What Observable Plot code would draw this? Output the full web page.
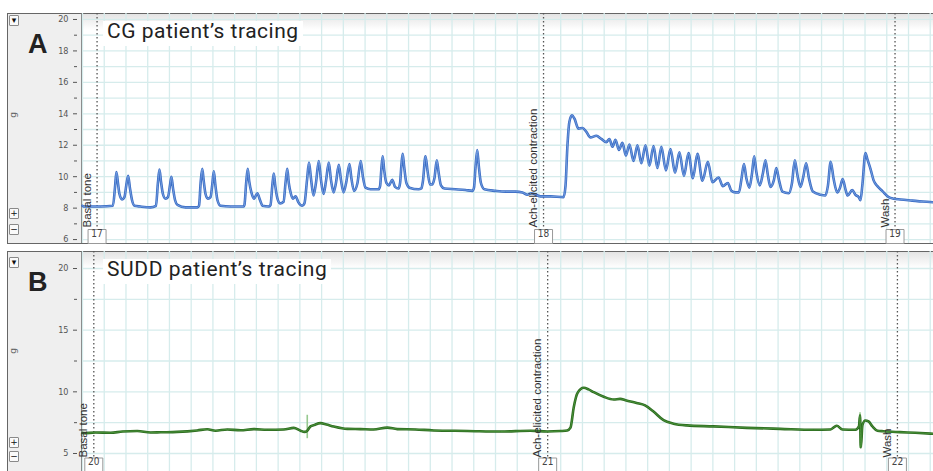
<!DOCTYPE html>
<html><head><meta charset="utf-8">
<script src="https://cdn.jsdelivr.net/npm/d3@7"></script>
<script src="https://cdn.jsdelivr.net/npm/@observablehq/plot@0.6"></script>
<style>
html,body{margin:0;padding:0;background:#fff;}
#root{position:relative;width:933px;height:471px;overflow:hidden;background:#fff;font-family:"Liberation Sans",Arial,sans-serif;}
.panel{position:absolute;left:7px;width:926px;border-top:1px solid #666;border-left:1px solid #666;background:#fff;}
#panelA{top:13px;height:229px;border-bottom:1px solid #666;}
#panelB{top:251px;height:230px;}
.side{position:absolute;left:0;top:0;bottom:0;width:73px;background:#efefef;border-right:1px solid #7d7d7d;}
.shade{position:absolute;left:74px;right:0;top:0;height:16px;background:linear-gradient(#e4e4e4,rgba(255,255,255,0));}
.chart{position:absolute;left:0;}
.title{position:absolute;left:103px;padding:0 4px;background:#fff;font-family:Roboto,"Noto Sans",sans-serif;font-size:21px;line-height:21px;color:#222;height:25px;}
.letter{position:absolute;left:28px;font-family:"Liberation Sans",Arial,sans-serif;font-weight:bold;font-size:27px;line-height:27px;color:#222;}
.btn{position:absolute;left:9px;width:8px;height:9px;border:1px solid #8a8a8a;background:#fafafa;font-size:9px;line-height:9px;text-align:center;color:#111;font-family:"DejaVu Sans",sans-serif;border-radius:1px;}
.unit{position:absolute;left:8px;width:10px;text-align:center;font-size:9px;color:#666;transform:rotate(-90deg);font-family:"DejaVu Sans",sans-serif;}
</style>
</head>
<body>
<div id="root">
  <div class="panel" id="panelA"><div class="side"></div><div class="shade"></div></div>
  <div class="panel" id="panelB"><div class="side"></div><div class="shade"></div></div>
  <div class="chart" id="chartA" style="top:0"></div>
  <div class="chart" id="chartB" style="top:244px"></div>
  <div class="title" style="top:21px;letter-spacing:0.5px">CG patient’s tracing</div>
  <div class="title" style="top:259px;letter-spacing:0.6px">SUDD patient’s tracing</div>
  <div class="letter" style="top:31px">A</div>
  <div class="letter" style="top:269px">B</div>
  <div class="btn" style="top:15px">▾</div>
  <div class="btn" style="top:208px">+</div>
  <div class="btn" style="top:224px">−</div>
  <div class="btn" style="top:257px">▾</div>
  <div class="btn" style="top:437px">+</div>
  <div class="btn" style="top:451px">−</div>
  <div class="unit" style="top:110px">g</div>
  <div class="unit" style="top:346px">g</div>
</div>
<script>
// ---------- Panel A: CG patient (time in s, tension in g) ----------
const timeA = [0,0.9,8.3,14.0,15.0,15.6,16.3,17.0,18.2,19.3,20.2,21.0,21.8,22.8,23.9,26.7,31.3,33.8,34.7,35.4,36.1,37.0,38.2,39.3,40.3,40.9,41.6,42.6,43.7,47.4,52.9,53.6,54.4,55.1,55.7,56.6,57.7,58.9,59.7,60.4,61.1,62.1,63.5,68.1,74.1,74.5,75.3,76.0,76.7,77.7,78.9,80.4,81.7,82.8,85.6,86.5,87.3,88.0,88.7,89.7,90.9,92.5,93.4,94.2,94.9,95.9,96.8,98.0,99.4,101.1,102.1,103.3,104.2,105.1,106.3,107.4,108.7,109.7,110.9,112.0,113.3,114.3,115.5,116.6,117.9,118.9,120.1,121.4,122.8,123.7,124.9,126.5,128.0,129.0,130.2,132.5,136.2,136.9,137.5,138.1,138.8,139.8,141.0,142.5,143.8,145.4,146.1,146.7,147.3,148.0,149.0,150.4,154.6,155.9,156.6,157.8,158.7,159.9,160.8,161.9,163.0,163.8,164.9,166.5,171.6,176.2,179.4,180.1,180.8,181.6,182.3,183.3,184.9,190.0,194.6,199.2,202.4,204.7,206.5,210.7,215.3,221.3,222.2,223.1,224.0,225.2,226.3,228.2,230.0,231.8,233.7,236.4,238.7,241.0,242.4,243.8,245.2,246.8,248.4,250.0,251.6,253.5,255.3,257.1,259.0,260.8,262.7,264.5,266.3,268.4,270.5,272.6,274.6,276.7,278.8,280.8,282.9,285.2,287.7,289.8,292.6,294.6,296.9,298.5,300.4,302.0,303.1,304.3,305.4,306.8,308.0,309.0,310.0,311.6,313.0,314.2,315.3,316.5,318.1,319.2,320.4,322.0,324.9,326.4,327.7,328.9,330.3,331.6,332.9,334.2,336.0,339.5,341.8,342.9,344.2,345.5,347.2,348.5,349.7,351.0,352.0,354.1,355.6,357.1,357.9,358.8,360.2,361.1,362.5,364.0,365.7,367.9,370.9,373.1,376.3,381.7,386.4,391.5];
const gramsA = [8.15,8.1,8.1,8.15,9.4,10.3,9.6,8.9,8.55,8.7,9.5,10.05,9.3,8.5,8.15,8.1,8.05,8.15,9.6,10.45,9.7,8.9,8.6,8.7,9.5,10.0,9.3,8.5,8.2,8.05,8.05,8.15,9.7,10.5,9.8,8.9,8.6,8.7,9.5,10.35,9.5,8.5,8.15,8.1,8.1,8.2,9.6,10.5,9.7,9.0,8.6,8.95,8.5,8.15,8.1,8.2,9.4,10.2,9.4,8.6,8.3,8.4,9.6,10.5,9.6,8.9,8.6,8.75,8.35,8.15,8.3,9.8,10.9,9.9,8.8,9.6,11.0,9.8,8.9,9.7,10.9,9.8,9.0,9.6,10.75,9.8,9.0,9.7,10.8,9.9,9.1,9.6,11.0,10.0,9.3,9.2,9.2,9.4,10.5,11.3,10.4,9.6,9.45,9.8,9.35,9.25,9.6,10.7,11.45,10.6,9.6,9.3,9.2,9.25,9.7,11.3,10.4,9.5,9.5,9.9,11.05,10.3,9.45,9.25,9.2,9.15,9.1,9.3,10.6,11.7,10.7,9.6,9.2,9.1,9.05,9.05,9.0,8.85,8.95,8.75,8.75,8.7,9.4,12.0,13.5,13.9,13.7,13.05,13.1,12.85,12.5,12.6,12.4,12.2,12.4,11.9,12.35,11.7,12.15,11.35,12.05,11.0,12.0,10.85,12.0,10.7,11.95,10.55,11.9,10.4,11.75,10.25,11.55,10.05,11.5,9.9,11.45,9.75,10.95,9.65,9.95,9.4,9.6,9.1,9.0,9.0,9.8,10.8,9.9,9.3,10.2,11.3,10.3,9.45,10.2,11.05,10.1,9.35,9.8,10.55,9.8,9.05,8.95,9.6,11.05,10.1,9.35,10.0,10.85,9.9,9.05,8.85,8.8,9.4,10.95,9.9,9.0,9.3,9.85,9.2,8.8,9.15,8.85,8.7,8.5,9.5,11.5,11.1,10.5,9.75,9.4,9.1,8.7,8.6,8.55,8.48,8.42,8.37];
const yTicksA = [6, 8, 10, 12, 14, 16, 18, 20];
const yMinorA = [7, 9, 11, 13, 15, 17, 19];
const markTimeA = [6.7, 212.1, 373.8];
const markNumA = ["17", "18", "19"];

// ---------- Panel B: SUDD patient ----------
const timeB = [0,0.5,6.0,12.9,18.4,25.2,31.3,35.9,43.6,52.8,57.4,61.2,66.6,72.7,78.8,85.0,92.6,97.2,100.3,102.1,103.4,104.9,106.4,109.5,112.2,115.6,121.8,127.9,133.9,140.2,144.8,153.2,161.6,177.0,192.3,206.1,213.8,219.9,223.0,224.5,226.0,227.7,230.6,232.8,235.2,239.8,244.4,247.3,250.2,254.9,258.8,262.7,267.3,271.9,278.0,290.3,305.6,320.9,336.3,344.1,347.0,349.6,355.6,357.2,357.7,358.1,358.8,360.1,361.6,363.4,365.7,368.5,376.0,383.1,391.5];
const gramsB = [6.68,6.65,6.7,6.68,6.78,6.82,6.7,6.72,6.75,6.87,6.97,6.85,6.95,6.88,6.98,6.92,6.95,7.08,6.85,6.75,6.85,7.2,7.3,7.46,7.35,7.19,7.0,6.98,6.95,7.1,6.98,6.95,6.87,6.83,6.78,6.85,6.78,6.82,6.87,7.1,8.76,9.9,10.33,10.2,9.97,9.6,9.38,9.43,9.3,9.1,8.9,8.4,7.7,7.42,7.28,7.2,7.08,7.0,6.92,6.95,7.25,6.95,6.93,7.2,8.1,5.5,7.3,7.68,7.6,7.2,6.85,6.8,6.73,6.68,6.6];
const yTicksB = [5, 10, 15, 20];
const yMinorB = [7.5, 12.5, 17.5];
const gridB = [5, 7.5, 10, 12.5, 15, 17.5, 20];
const markTimeB = [5.2, 214.0, 374.9];
const markNumB = ["20", "21", "22"];
const eventTimeB = [103.4, 357.7];
const eventLowB = [6.2, 5.4];
const eventHighB = [8.1, 8.3];

const markLabels = ["Basal tone", "Ach-elicited contraction", "Wash"];
const gridTimes = d3.range(0, 392, 10);

const boxSymbol = {draw(ctx) { ctx.moveTo(-9, -7); ctx.lineTo(9, -7); ctx.lineTo(9, 7); ctx.lineTo(-9, 7); ctx.closePath(); }};

function panel({time, grams, color, light, yDomain, height, marginTop, marginBottom, ticks, minor, grid, markT, markN, labelDy, boxDy, events}) {
  const data = time.map((t, i) => ({t, g: grams[i]}));
  const marks = [
    Plot.gridX(gridTimes, {stroke: "#d6ecec", strokeOpacity: 1, strokeWidth: 1.3}),
    Plot.gridY(grid, {stroke: "#d6ecec", strokeOpacity: 1, strokeWidth: 1.3}),
    Plot.axisY(ticks, {anchor: "left", label: null, tickSize: 4, tickPadding: 5, dx: -5, fontSize: 9, color: "#555", fontFamily: "DejaVu Sans Condensed, DejaVu Sans, sans-serif"}),
    Plot.axisY(minor, {anchor: "left", label: null, tickSize: 3, tickFormat: () => "", dx: -5, color: "#555"}),
    Plot.ruleX(markT, {stroke: "#555", strokeWidth: 1.3, strokeDasharray: "1.5,2.5"}),
  ];
  if (events) marks.push(Plot.ruleX(events.t, {y1: (d, i) => events.lo[i], y2: (d, i) => events.hi[i], stroke: "#96c98f", strokeWidth: 1.6}));
  marks.push(
    Plot.line(data, {x: "t", y: "g", stroke: color, strokeWidth: 2.6, curve: "monotone-x"}),
    Plot.line(data, {x: "t", y: "g", stroke: light, strokeWidth: 0.8, curve: "monotone-x"}),
    Plot.text(markT, {x: d => d, frameAnchor: "bottom", text: (d, i) => markLabels[i], rotate: -90, textAnchor: "start", dx: -6.5, dy: labelDy, fontSize: 11.5, fill: "#333", fontFamily: "Liberation Sans, Arial, sans-serif"}),
    Plot.dot(markT, {x: d => d, frameAnchor: "bottom", dy: boxDy, symbol: boxSymbol, fill: "#fff", stroke: "#999", strokeWidth: 1}),
    Plot.text(markT, {x: d => d, frameAnchor: "bottom", dy: boxDy, text: (d, i) => markN[i], fontSize: 10, fill: "#444", fontFamily: "DejaVu Sans Condensed, DejaVu Sans, sans-serif"})
  );
  return Plot.plot({
    width: 933, height, marginLeft: 82, marginRight: 0, marginTop, marginBottom,
    style: {background: "transparent", overflow: "visible"},
    x: {domain: [0, 391.5], axis: null},
    y: {domain: yDomain, label: null},
    marks
  });
}

document.getElementById("chartA").append(panel({
  time: timeA, grams: gramsA, color: "#3a6cc4", light: "#82a9e6",
  yDomain: [5.75, 20.38], height: 244, marginTop: 13, marginBottom: 1,
  ticks: yTicksA, minor: yMinorA, grid: d3.range(6, 21, 1),
  markT: markTimeA, markN: markNumA, labelDy: -16, boxDy: -7
}));
document.getElementById("chartB").append(panel({
  time: timeB, grams: gramsB, color: "#2c6b1f", light: "#4f9a3f",
  yDomain: [3.54, 21.38], height: 227, marginTop: 7, marginBottom: 0,
  ticks: yTicksB, minor: yMinorB, grid: gridB,
  markT: markTimeB, markN: markNumB, labelDy: -14, boxDy: -6.5,
  events: {t: eventTimeB, lo: eventLowB, hi: eventHighB}
}));
</script>
</body></html>
